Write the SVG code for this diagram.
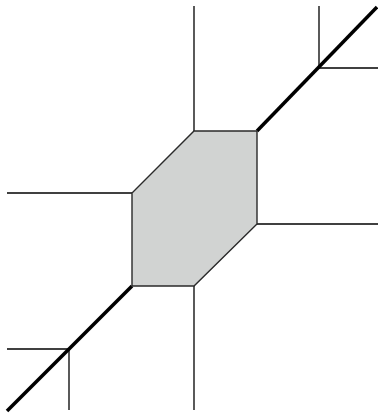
<svg xmlns="http://www.w3.org/2000/svg" width="378" height="415" viewBox="0 0 378 415">
<style>
.thin{stroke:#000;stroke-width:1.3;fill:none}
.thick{stroke:#000;stroke-width:3.5;fill:none}
.cell{fill:#d1d3d2;stroke:#2a2a2a;stroke-width:1.4;stroke-linejoin:miter}
</style>
<rect width="378" height="415" fill="#fff"/>
<g id="connectors">
<line class="thin" x1="194" y1="6" x2="194" y2="131"/>
<line class="thin" x1="7" y1="193" x2="132" y2="193"/>
<line class="thin" x1="257" y1="224" x2="378" y2="224"/>
<line class="thin" x1="194" y1="286" x2="194" y2="410"/>
<line class="thin" x1="319" y1="6" x2="319" y2="68"/>
<line class="thin" x1="319" y1="68" x2="378" y2="68"/>
<line class="thin" x1="7" y1="349" x2="69" y2="349"/>
<line class="thin" x1="69" y1="349" x2="69" y2="410"/>
<line class="thick" x1="257" y1="131" x2="377" y2="7"/>
<line class="thick" x1="132" y1="286" x2="7" y2="411"/>
</g>
<g id="cell">
<polygon class="cell" points="194,131 257,131 257,224 194,286 132,286 132,193"/>
</g>
</svg>
